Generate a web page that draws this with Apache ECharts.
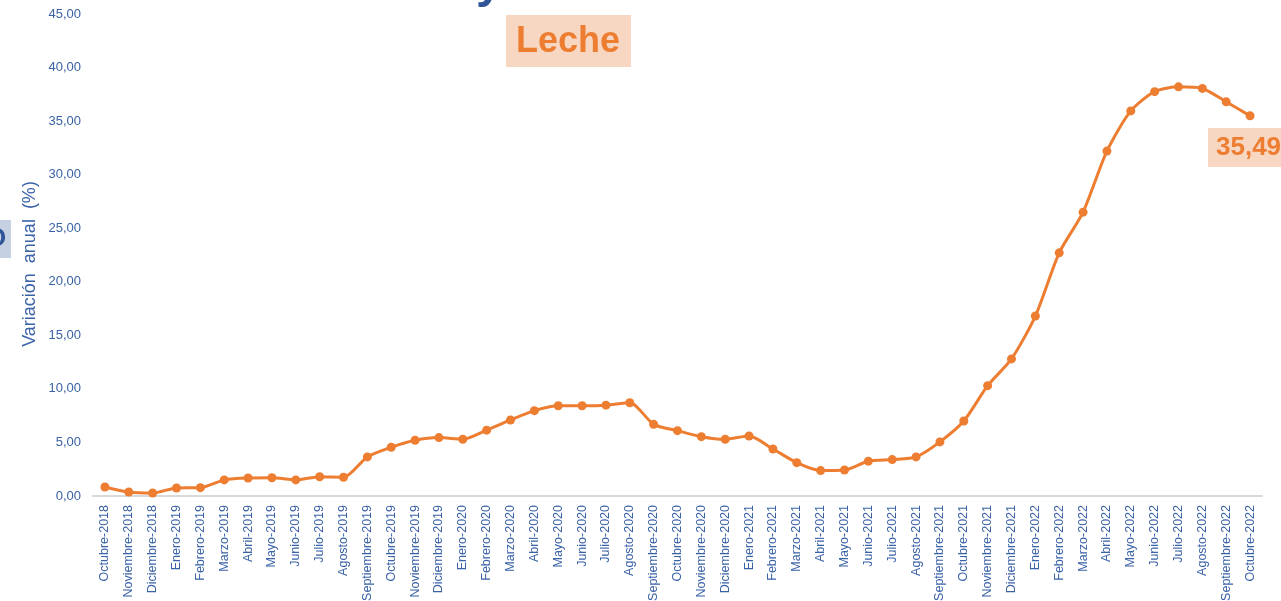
<!DOCTYPE html>
<html>
<head>
<meta charset="utf-8">
<script src="https://cdn.jsdelivr.net/npm/echarts@6/dist/echarts.min.js"></script>
<style>
html, body { margin: 0; padding: 0; background: #fff; }
#main { width: 1281px; height: 601px; }
</style>
</head>
<body>
<div id="main"></div>
<script>
var meses = ['Octubre-2018', 'Noviembre-2018', 'Diciembre-2018',
    'Enero-2019', 'Febrero-2019', 'Marzo-2019', 'Abril-2019', 'Mayo-2019', 'Junio-2019',
    'Julio-2019', 'Agosto-2019', 'Septiembre-2019', 'Octubre-2019', 'Noviembre-2019', 'Diciembre-2019',
    'Enero-2020', 'Febrero-2020', 'Marzo-2020', 'Abril-2020', 'Mayo-2020', 'Junio-2020',
    'Julio-2020', 'Agosto-2020', 'Septiembre-2020', 'Octubre-2020', 'Noviembre-2020', 'Diciembre-2020',
    'Enero-2021', 'Febrero-2021', 'Marzo-2021', 'Abril-2021', 'Mayo-2021', 'Junio-2021',
    'Julio-2021', 'Agosto-2021', 'Septiembre-2021', 'Octubre-2021', 'Noviembre-2021', 'Diciembre-2021',
    'Enero-2022', 'Febrero-2022', 'Marzo-2022', 'Abril-2022', 'Mayo-2022', 'Junio-2022',
    'Julio-2022', 'Agosto-2022', 'Septiembre-2022', 'Octubre-2022'];

// variacion anual leche (%)
var leche = [0.84, 0.37, 0.28,
    0.75, 0.78, 1.50, 1.68, 1.70, 1.50,
    1.80, 1.75, 3.65, 4.55, 5.20, 5.45,
    5.30, 6.15, 7.10, 7.97, 8.43, 8.43,
    8.48, 8.71, 6.69, 6.10, 5.54, 5.30,
    5.60, 4.39, 3.11, 2.37, 2.43, 3.25,
    3.40, 3.65, 5.05, 7.00, 10.30, 12.80,
    16.80, 22.70, 26.50, 32.20, 35.95, 37.75,
    38.20, 38.05, 36.80, 35.49];

var yMin = 0, yMax = 45, yPaso = 5;
var serieNombre = 'Leche';
var ejeNombre = 'Variación  anual  (%)';

var azul = '#3A62A6';
var naranja = '#ED7D31';
var fondoNaranja = '#F8D7C2';

function fmt(v) {
    return v.toFixed(2).replace('.', ',');
}

var myChart = echarts.init(document.getElementById('main'));
var option = {
    animation: false,
    grid: { left: 93, right: 19, top: 14, bottom: 105, outerBoundsMode: 'none', containLabel: false },
    xAxis: {
        type: 'category',
        data: meses,
        boundaryGap: true,
        axisLine: { lineStyle: { color: '#D9D9D9', width: 2 } },
        axisTick: { show: false },
        axisLabel: {
            rotate: 90,
            interval: 0,
            margin: 9,
            color: azul,
            fontFamily: 'Arial, Liberation Sans',
            fontSize: 12.5
        }
    },
    yAxis: {
        type: 'value',
        min: yMin,
        max: yMax,
        interval: yPaso,
        axisLine: { show: false },
        axisTick: { show: false },
        splitLine: { show: false },
        axisLabel: {
            margin: 12,
            color: azul,
            fontFamily: 'Arial, Liberation Sans',
            fontSize: 13,
            formatter: function (v) { return fmt(v); }
        }
    },
    series: [{
        name: serieNombre,
        type: 'line',
        data: leche,
        smooth: 0.25,
        symbol: 'circle',
        symbolSize: 9,
        lineStyle: { color: naranja, width: 3 },
        itemStyle: { color: naranja }
    }],
    graphic: [
        // fragmentos recortados del original
        {
            type: 'rect', left: 0, top: 220,
            shape: { width: 11, height: 38 },
            style: { fill: '#C5D1E3' }
        },
        {
            type: 'text', x: -14, y: 239,
            style: {
                text: 'O', fill: '#2F5597', font: 'bold 26px Arial',
                textAlign: 'left', textVerticalAlign: 'middle'
            }
        },
        {
            type: 'text', x: 476, y: -40,
            style: {
                text: 'y', fill: '#2F5597', font: 'bold 48px Arial',
                textAlign: 'left', textVerticalAlign: 'top'
            }
        },
        {
            type: 'text', x: 30, y: 264, rotation: Math.PI / 2,
            style: {
                text: ejeNombre, fill: azul, font: '18px Arial',
                textAlign: 'center', textVerticalAlign: 'middle'
            }
        },
        {
            type: 'rect', left: 506, top: 15,
            shape: { width: 125, height: 52 },
            style: { fill: fondoNaranja }
        },
        {
            type: 'text', x: 568, y: 42,
            style: {
                text: serieNombre, fill: naranja, font: 'bold 36px Arial',
                textAlign: 'center', textVerticalAlign: 'middle'
            }
        },
        {
            type: 'rect', left: 1208, top: 128,
            shape: { width: 80, height: 39 },
            style: { fill: fondoNaranja }
        },
        {
            type: 'text', x: 1216, y: 148,
            style: {
                text: fmt(leche[leche.length - 1]), fill: naranja, font: 'bold 26px Arial',
                textAlign: 'left', textVerticalAlign: 'middle'
            }
        }
    ]
};
myChart.setOption(option);
</script>
</body>
</html>
